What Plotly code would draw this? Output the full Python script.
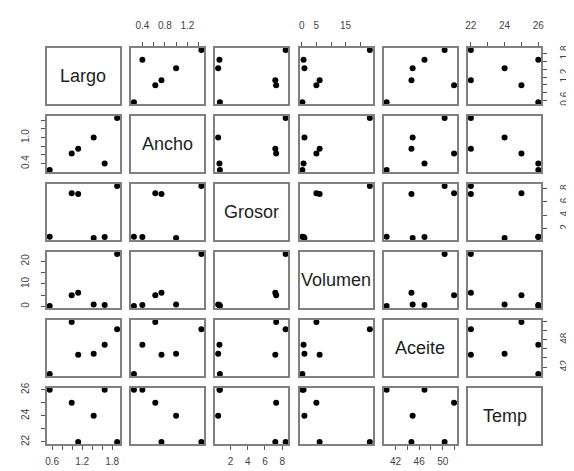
import plotly.graph_objects as go
from plotly.subplots import make_subplots

var_names = ["Largo", "Ancho", "Grosor", "Volumen", "Aceite", "Temp"]
largo = [0.55, 0.99, 1.12, 1.43, 1.65, 1.90]
ancho = [0.25, 0.63, 0.74, 1.00, 0.40, 1.45]
grosor = [0.75, 7.30, 7.20, 0.55, 0.70, 8.40]
volumen = [0.2, 5.0, 6.1, 0.9, 0.6, 23.3]
aceite = [40.5, 51.9, 44.7, 44.9, 46.9, 50.3]
temp = [26, 25, 22, 24, 26, 22]

# tick positions and the labels shown on the outer axes
largo_ticks = [0.6, 0.8, 1.0, 1.2, 1.4, 1.6, 1.8]
largo_labels = ["0.6", "", "", "1.2", "", "", "1.8"]
ancho_ticks = [0.4, 0.6, 0.8, 1.0, 1.2, 1.4]
ancho_top_labels = ["0.4", "", "0.8", "", "1.2", ""]
ancho_left_labels = ["0.4", "", "", "1.0", "", ""]
grosor_ticks = [2, 4, 6, 8]
grosor_labels = ["2", "4", "6", "8"]
volumen_ticks = [0, 5, 10, 15, 20]
volumen_top_labels = ["0", "5", "", "15", ""]
volumen_left_labels = ["0", "", "10", "", "20"]
aceite_ticks = [42, 44, 46, 48, 50, 52]
aceite_bottom_labels = ["42", "", "46", "", "50", ""]
aceite_right_labels = ["42", "", "", "48", "", ""]
temp_ticks = [22, 23, 24, 25, 26]
temp_labels = ["22", "", "24", "", "26"]

series = [largo, ancho, grosor, volumen, aceite, temp]
# horizontal (top / bottom) axis ticks per column
h_ticks = [
    (largo_ticks, largo_labels),
    (ancho_ticks, ancho_top_labels),
    (grosor_ticks, grosor_labels),
    (volumen_ticks, volumen_top_labels),
    (aceite_ticks, aceite_bottom_labels),
    (temp_ticks, temp_labels),
]
# vertical (left / right) axis ticks per row
v_ticks = [
    (largo_ticks, largo_labels),
    (ancho_ticks, ancho_left_labels),
    (grosor_ticks, grosor_labels),
    (volumen_ticks, volumen_left_labels),
    (aceite_ticks, aceite_right_labels),
    (temp_ticks, temp_labels),
]


def padded_range(vals):
    lo, hi = min(vals), max(vals)
    d = (hi - lo) * 0.04
    return [lo - d, hi + d]


ranges = [padded_range(s) for s in series]
n = len(series)

W, H = 574, 471
ml, mr, mt, mb = 28, 25, 34, 31
pw = W - ml - mr
ph = H - mt - mb
gap = 12

fig = make_subplots(rows=n, cols=n,
                    horizontal_spacing=gap / pw,
                    vertical_spacing=gap / ph)

FRAME = "#808080"
TICKC = "#555555"
FONT = "Liberation Sans, Arial, sans-serif"
tickfont = dict(family=FONT, size=10, color="#444444")

for r in range(n):
    for c in range(n):
        row, col = r + 1, c + 1
        if r != c:
            fig.add_trace(go.Scatter(
                x=series[c], y=series[r], mode="markers",
                marker=dict(color="black", size=6),
                cliponaxis=False, showlegend=False, hoverinfo="skip"),
                row=row, col=col)
        else:
            # empty trace so the diagonal panel frame is drawn
            fig.add_trace(go.Scatter(
                x=[None], y=[None], mode="markers",
                showlegend=False, hoverinfo="skip"),
                row=row, col=col)
        xa = dict(range=ranges[c], showline=True, mirror=True,
                  linecolor=FRAME, linewidth=2, showgrid=False,
                  zeroline=False, ticks="", showticklabels=False,
                  fixedrange=True)
        ya = dict(range=ranges[r], showline=True, mirror=True,
                  linecolor=FRAME, linewidth=2, showgrid=False,
                  zeroline=False, ticks="", showticklabels=False,
                  fixedrange=True)
        tick_style = dict(ticks="outside", ticklen=4, tickwidth=1,
                          tickcolor=TICKC, showticklabels=True,
                          tickfont=tickfont)
        if r == 0 and c % 2 == 1:
            xa.update(side="top", tickvals=h_ticks[c][0],
                      ticktext=h_ticks[c][1], ticklabelstandoff=9,
                      **tick_style)
        if r == n - 1 and c % 2 == 0:
            xa.update(side="bottom", tickvals=h_ticks[c][0],
                      ticktext=h_ticks[c][1], ticklabelstandoff=3,
                      **tick_style)
        if c == 0 and r % 2 == 1:
            ya.update(side="left", tickvals=v_ticks[r][0],
                      ticktext=v_ticks[r][1], tickangle=-90,
                      ticklabelstandoff=8, **tick_style)
        if c == n - 1 and r % 2 == 0:
            ya.update(side="right", tickvals=v_ticks[r][0],
                      ticktext=v_ticks[r][1], tickangle=-90,
                      ticklabelstandoff=9, **tick_style)
        fig.update_xaxes(row=row, col=col, **xa)
        fig.update_yaxes(row=row, col=col, **ya)

# diagonal variable names
for i, name in enumerate(var_names):
    k = i * n + i + 1
    suffix = "" if k == 1 else str(k)
    fig.add_annotation(text=name, x=0.5, y=0.5,
                       xref=f"x{suffix} domain", yref=f"y{suffix} domain",
                       showarrow=False,
                       font=dict(family=FONT, size=18, color="#1e1e1e"))

fig.update_layout(width=W, height=H,
                  margin=dict(l=ml, r=mr, t=mt, b=mb, pad=0),
                  paper_bgcolor="white", plot_bgcolor="white",
                  showlegend=False)

fig.write_html("out.html")
